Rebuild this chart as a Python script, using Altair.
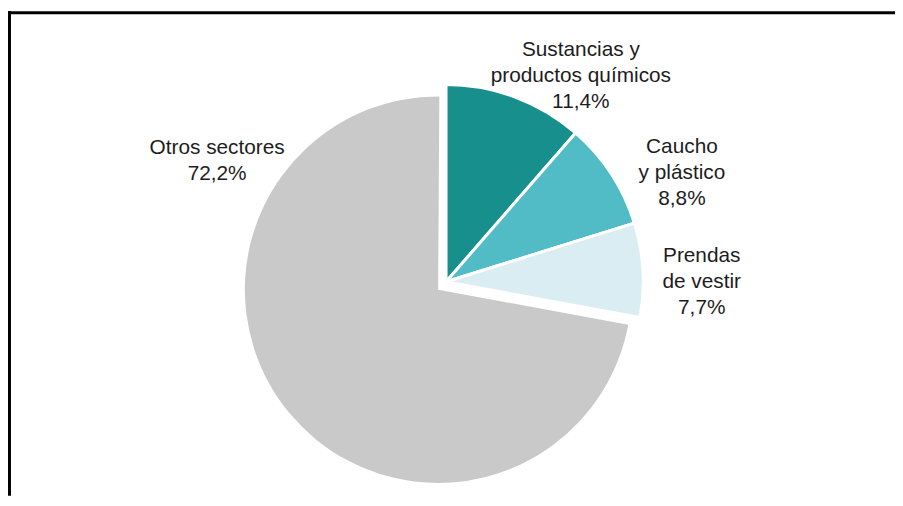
import altair as alt
import pandas as pd

# ---- data ----
sectors = ["Sustancias y productos químicos", "Caucho y plástico", "Prendas de vestir", "Otros sectores"]
shares = [11.4, 8.8, 7.7, 72.2]
share_labels = ["11,4%", "8,8%", "7,7%", "72,2%"]
name_lines = [["Sustancias y", "productos químicos"], ["Caucho", "y plástico"], ["Prendas", "de vestir"], ["Otros sectores"]]
exploded = [True, True, True, False]

# ---- style / layout ----
colors = ["#178f8c", "#52bcc6", "#d9edf3", "#c9c9c9"]
W, H = 895, 490
grey_center = (434, 282)
grey_radius = 195
teal_center = (442, 274)
teal_radius = 199
label_pos = {
    "Sustancias y productos químicos": (578, 46),
    "Caucho y plástico": (680, 144),
    "Prendas de vestir": (700, 254),
    "Otros sectores": (211, 145),
}

df = pd.DataFrame({
    "order": list(range(len(sectors))),
    "sector": sectors,
    "share": shares,
    "label": ["\n".join(l + [p]) for l, p in zip(name_lines, share_labels)],
    "exploded": exploded,
})

theta_scale = alt.Scale(domain=[0, 100], range=[0, 6.283185307179586])
color_scale = alt.Scale(domain=sectors, range=colors)

base = alt.Chart(df).transform_window(
    end="sum(share)", sort=[alt.SortField("order")], frame=[None, 0]
).transform_calculate(start="datum.end - datum.share")

grey = base.transform_filter("!datum.exploded").mark_arc(radius=grey_radius).encode(
    theta=alt.Theta("start:Q", scale=theta_scale),
    theta2="end:Q",
    color=alt.Color("sector:N", scale=color_scale, legend=None),
    x=alt.value(grey_center[0]),
    y=alt.value(grey_center[1]),
)

teal = base.transform_filter("datum.exploded").mark_arc(
    radius=teal_radius, stroke="white", strokeWidth=3, strokeJoin="miter"
).encode(
    theta=alt.Theta("start:Q", scale=theta_scale),
    theta2="end:Q",
    color=alt.Color("sector:N", scale=color_scale, legend=None),
    x=alt.value(teal_center[0]),
    y=alt.value(teal_center[1]),
)

labels = []
for s in sectors:
    lx, ly = label_pos[s]
    labels.append(
        alt.Chart(df).transform_filter(alt.datum.sector == s).mark_text(
            font="Liberation Sans", fontSize=21, lineHeight=26.5, lineBreak="\n",
            align="center", baseline="alphabetic", color="#1e1c1d",
        ).encode(text="label:N", x=alt.value(lx), y=alt.value(ly))
    )

frame_src = alt.Chart(alt.Data(values=[{"k": 0}]))
top_rule = frame_src.mark_rule(color="black", strokeWidth=3).encode(
    x=alt.value(0), x2=alt.value(W), y=alt.value(2.5)
)
left_rule = frame_src.mark_rule(color="black", strokeWidth=3).encode(
    x=alt.value(1.5), y=alt.value(1), y2=alt.value(H)
)

chart = alt.layer(grey, teal, *labels, top_rule, left_rule).properties(
    width=W, height=H, padding=0, autosize=alt.AutoSizeParams(type="none"),
    background="white",
).configure_view(stroke=None)

chart.save("out.html", embed_options={"renderer": "svg", "actions": False})
